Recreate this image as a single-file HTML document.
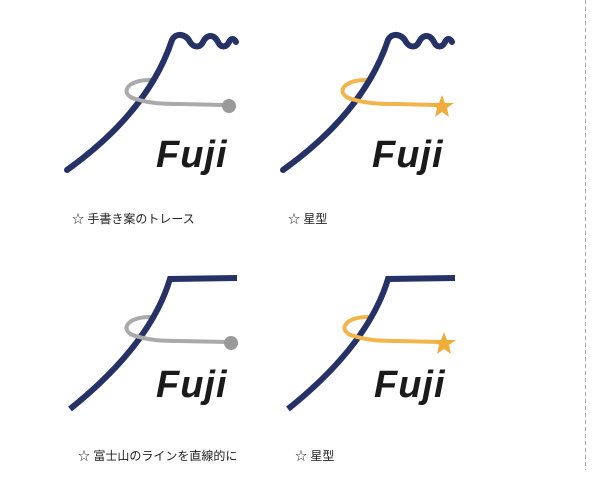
<!DOCTYPE html>
<html><head><meta charset="utf-8"><style>
html,body{margin:0;padding:0;background:#fff;}
svg{display:block}
text{font-family:"Liberation Sans","Noto Sans CJK JP",sans-serif;}
</style></head><body>
<svg width="600" height="480" viewBox="0 0 600 480" xmlns="http://www.w3.org/2000/svg">
<defs>
<g id="fuji">
<text x="156" y="167" font-size="38" font-weight="bold" font-style="italic" letter-spacing="1" fill="#1a1a1a">Fuji</text>
</g>
<g id="topMtn">
<path d="M67,170 Q148,112 172,40 C176,32 186,34 190,42 C194,48 200,48 203,42 C207,34 214,34 218,42 C221,48 226,48 229,42 C231,38 234,38 236,42" fill="none" stroke="#263166" stroke-width="6" stroke-linecap="round" stroke-linejoin="round"/>
</g>
<g id="botMtn">
<path d="M70,409 Q150,345 170,279 L237,278" fill="none" stroke="#263166" stroke-width="6" stroke-linejoin="miter"/>
</g>
</defs>

<!-- top-left -->
<path d="M152,80 C128,79 118,93 135,99" fill="none" stroke="#aaaaaa" stroke-width="4"/>
<use href="#topMtn"/>
<path d="M130,97 C148,104 165,104 180,104 L225,105" fill="none" stroke="#aaaaaa" stroke-width="4"/>
<circle cx="229" cy="106" r="7" fill="#9a9a9a"/>
<use href="#fuji"/>
<text x="72" y="223" font-size="12" fill="#222">☆ 手書き案のトレース</text>

<!-- top-right -->
<g transform="translate(216,0)">
<path d="M152,80 C128,79 118,93 135,99" fill="none" stroke="#f1b54c" stroke-width="4"/>
<use href="#topMtn"/>
<path d="M130,97 C148,104 165,104 180,104 L220,105" fill="none" stroke="#f1b54c" stroke-width="4"/>
<polygon points="226,95 229,103 238,103 231,108 233,117 226,112 219,117 221,108 214,103 223,103" fill="#f0ad3c"/>
<use href="#fuji"/>
</g>
<text x="288" y="223" font-size="12" fill="#222">☆ 星型</text>

<!-- bottom-left -->
<path d="M152,317 C128,316 118,330 135,336" fill="none" stroke="#aaaaaa" stroke-width="4"/>
<use href="#botMtn"/>
<path d="M130,334 C148,341 165,341 180,341 L227,342" fill="none" stroke="#aaaaaa" stroke-width="4"/>
<circle cx="231" cy="343" r="7" fill="#9a9a9a"/>
<use href="#fuji" transform="translate(0,230)"/>
<text x="78" y="460" font-size="12" fill="#222">☆ 富士山のラインを直線的に</text>

<!-- bottom-right -->
<g transform="translate(218,0)">
<path d="M152,317 C128,316 118,330 135,336" fill="none" stroke="#f1b54c" stroke-width="4"/>
<use href="#botMtn"/>
<path d="M130,334 C148,341 165,341 180,341 L222,342" fill="none" stroke="#f1b54c" stroke-width="4"/>
<polygon points="226,332 229,340 238,340 231,345 233,354 226,349 219,354 221,345 214,340 223,340" fill="#f0ad3c"/>
<use href="#fuji" transform="translate(0,230)"/>
</g>
<text x="295" y="460" font-size="12" fill="#222">☆ 星型</text>

<line x1="585.5" y1="0" x2="585.5" y2="470" stroke="#aaa" stroke-width="1" stroke-dasharray="4,3"/>
</svg>
</body></html>
